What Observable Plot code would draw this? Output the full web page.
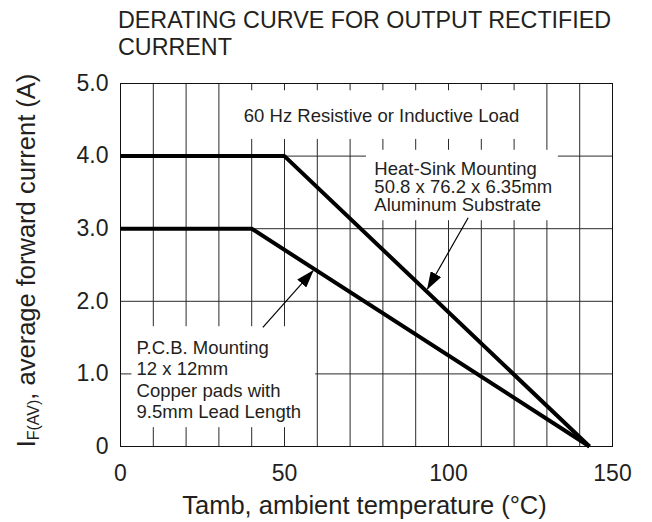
<!DOCTYPE html>
<html><head><meta charset="utf-8">
<script src="https://cdn.jsdelivr.net/npm/d3@7"></script>
<script src="https://cdn.jsdelivr.net/npm/@observablehq/plot@0.6"></script>
<style>
body{margin:0;background:#fff;font-family:"Liberation Sans",Arial,Helvetica,sans-serif;}
#title{height:60px;box-sizing:border-box;padding:7px 0 0 118px;font-size:23.3px;line-height:26.7px;color:#231f20;white-space:nowrap;}
#chart svg{display:block;}
</style></head><body>
<div id="title">DERATING CURVE FOR OUTPUT RECTIFIED<br>CURRENT</div>
<div id="chart"></div>
<script>
// ---- data ----
const tempTicks = [0, 50, 100, 150];
const currentTicks = [0, 1, 2, 3, 4, 5];
const currentTickLabels = ["0", "1.0", "2.0", "3.0", "4.0", "5.0"];
const gridTemps = [10, 20, 30, 40, 50, 60, 70, 80, 90, 100, 110, 120, 130, 140];
const gridCurrents = [1, 2, 3, 4];

const heatSinkTemp = [0, 50, 143];
const heatSinkCurrent = [4.0, 4.0, 0];
const pcbTemp = [0, 40, 143];
const pcbCurrent = [3.0, 3.0, 0];

const noteLabels = [
  "60 Hz Resistive or Inductive Load",
  "Heat-Sink Mounting\n50.8 x 76.2 x 6.35mm\nAluminum Substrate",
  "P.C.B. Mounting\n12 x 12mm\nCopper pads with\n9.5mm Lead Length"
];
const noteTemp = [37.6, 77.4, 4.9];
const noteCurrent = [4.65, 3.92, 1.48];

const boxTempFrom = [36, 75, 3.5];
const boxTempTo = [127, 133.5, 59.5];
const boxCurrentFrom = [4.23, 3.11, 0.26];
const boxCurrentTo = [4.90, 4.08, 1.65];

const arrowFromTemp = [106.0, 43.4];
const arrowFromCurrent = [3.15, 1.64];
const arrowToTemp = [93.6, 58.7];
const arrowToCurrent = [2.17, 2.42];

const xTitle = "Tamb, ambient temperature (°C)";
const yTitle = "IF(AV), average forward current (A)";

// ---- tables ----
const heatSink = heatSinkTemp.map((t, i) => ({t, c: heatSinkCurrent[i]}));
const pcb = pcbTemp.map((t, i) => ({t, c: pcbCurrent[i]}));
const boxes = boxTempFrom.map((t, i) => ({x1: t, x2: boxTempTo[i], y1: boxCurrentFrom[i], y2: boxCurrentTo[i]}));
const arrows = arrowFromTemp.map((t, i) => ({x1: t, y1: arrowFromCurrent[i], x2: arrowToTemp[i], y2: arrowToCurrent[i]}));
const note = (i, lh) => Plot.text([noteLabels[i]], {
  x: () => noteTemp[i], y: () => noteCurrent[i], text: d => d,
  textAnchor: "start", lineAnchor: "top", fontSize: 18.5, lineHeight: lh, fill: "#231f20"
});

const ink = "#231f20";
const chart = Plot.plot({
  width: 652, height: 462,
  marginTop: 23, marginBottom: 76, marginLeft: 120, marginRight: 40,
  style: {fontFamily: '"Liberation Sans", Arial, Helvetica, sans-serif', background: "white", color: ink},
  x: {domain: [0, 150]},
  y: {domain: [0, 5]},
  marks: [
    Plot.ruleX(gridTemps, {x: d => d, stroke: "#2a2a2a", strokeWidth: 1}),
    Plot.ruleY(gridCurrents, {y: d => d, stroke: "#2a2a2a", strokeWidth: 1}),
    Plot.rect(boxes, {x1: "x1", x2: "x2", y1: "y1", y2: "y2", fill: "white"}),
    Plot.frame({stroke: "#111", strokeWidth: 1}),
    Plot.line(heatSink, {x: "t", y: "c", stroke: "#000", strokeWidth: 4, strokeLinejoin: "miter", strokeLinecap: "butt"}),
    Plot.line(pcb, {x: "t", y: "c", stroke: "#000", strokeWidth: 4, strokeLinejoin: "miter", strokeLinecap: "butt"}),
    note(0, 1),
    note(1, 0.985),
    note(2, 1.15),
    Plot.link(arrows, {x1: "x1", y1: "y1", x2: "x2", y2: "y2", stroke: "#000", strokeWidth: 1.2}),
    Plot.axisX({ticks: tempTicks, tickSize: 0, tickPadding: 18, fontSize: 23, label: null, fill: ink}),
    Plot.axisY({ticks: currentTicks, tickFormat: d => currentTickLabels[currentTicks.indexOf(d)], tickSize: 0, tickPadding: 12, fontSize: 23, label: null, fill: ink}),
    Plot.text([xTitle], {frameAnchor: "bottom", text: d => d, dy: 59, dx: -2, lineAnchor: "middle", fontSize: 25.5, fill: ink}),
    Plot.text([yTitle], {frameAnchor: "left", text: d => d, dx: -94, dy: -4.5, rotate: -90, lineAnchor: "middle", textAnchor: "middle", fontSize: 25.5, fill: ink})
  ]
});

// filled arrowheads for the annotation pointers
const svg = d3.select(chart);
svg.append("defs").append("marker")
  .attr("id", "arrowhead").attr("viewBox", "0 0 18 12")
  .attr("refX", 17).attr("refY", 6)
  .attr("markerWidth", 18).attr("markerHeight", 12)
  .attr("markerUnits", "userSpaceOnUse").attr("orient", "auto")
  .append("path").attr("d", "M0,0L18,6L0,12Z").attr("fill", "#000");
svg.selectAll('g[aria-label="link"] path').attr("marker-end", "url(#arrowhead)");

// subscript in the y-axis title
svg.selectAll("text").filter(function() { return this.textContent === yTitle; }).each(function() {
  const yt = d3.select(this);
  yt.text(null);
  yt.append("tspan").text("I");
  yt.append("tspan").attr("font-size", "16px").attr("dy", "4").text("F(AV)");
  yt.append("tspan").attr("dy", "-4").text(", average forward current (A)");
});

document.getElementById("chart").appendChild(chart);
</script>
</body></html>
